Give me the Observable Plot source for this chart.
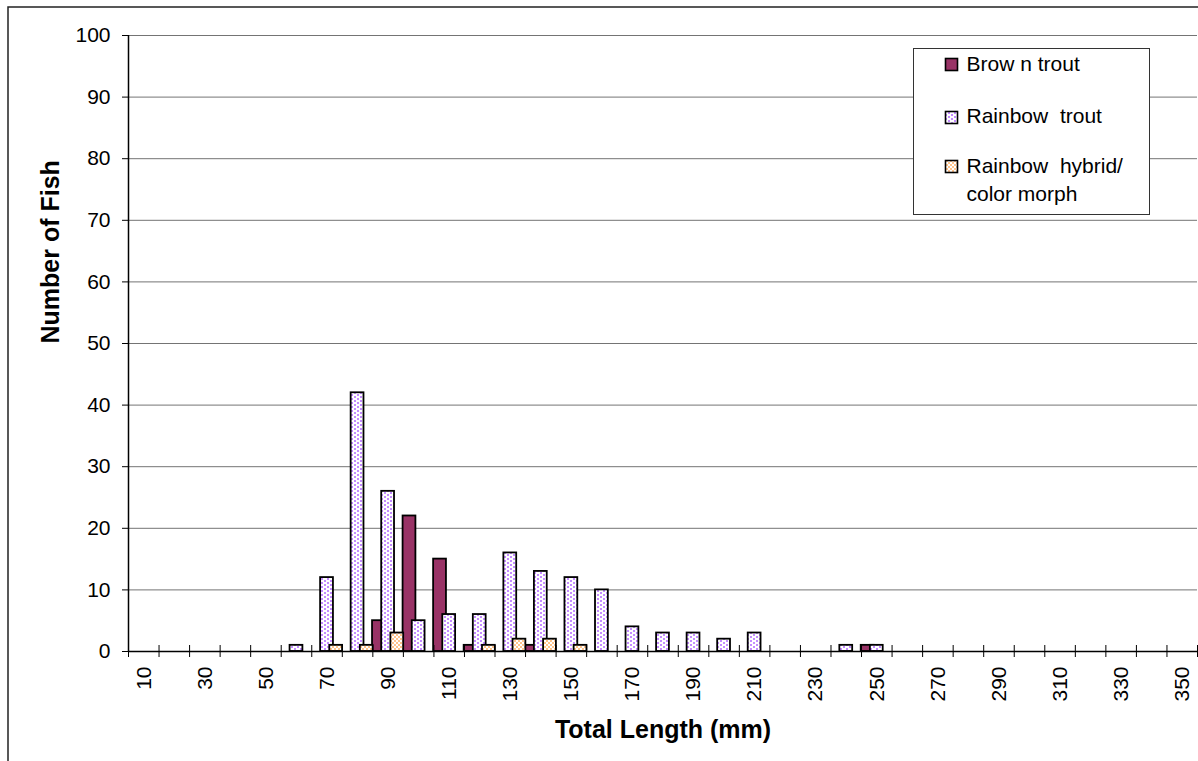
<!DOCTYPE html>
<html><head><meta charset="utf-8">
<script src="https://cdn.jsdelivr.net/npm/d3@7"></script>
<script src="https://cdn.jsdelivr.net/npm/@observablehq/plot@0.6"></script>
<style>
html,body{margin:0;padding:0;overflow:hidden;background:#fff;}
#chart{width:1198px;height:761px;}
g[aria-label="axis-title"] text{letter-spacing:0.9px;}
</style></head><body>
<div id="chart"></div>
<script>
// ---- data ----
const lengths = [10,20,30,40,50,60,70,80,90,100,110,120,130,140,150,160,170,180,190,200,210,220,230,240,250,260,270,280,290,300,310,320,330,340,350];
const brownTrout =    [0,0,0,0,0,0,0,0,5,22,15,1,0,1,0,0,0,0,0,0,0,0,0,0,1,0,0,0,0,0,0,0,0,0,0];
const rainbowTrout =  [0,0,0,0,0,1,12,42,26,5,6,6,16,13,12,10,4,3,3,2,3,0,0,1,1,0,0,0,0,0,0,0,0,0,0];
const rainbowHybrid = [0,0,0,0,0,0,1,1,3,0,0,1,2,2,1,0,0,0,0,0,0,0,0,0,0,0,0,0,0,0,0,0,0,0,0];
const seriesNames = ["Brow n trout", "Rainbow  trout", "Rainbow  hybrid/\ncolor morph"];
const yTicks = [0,10,20,30,40,50,60,70,80,90,100];
const xTickLabels = [10,30,50,70,90,110,130,150,170,190,210,230,250,270,290,310,330,350];

// ---- styling ----
const font = "'Liberation Sans', Arial, sans-serif";
const fills = ["#993366", "url(#rbDots)", "url(#hyCheck)"];
const barW = 4.2, step = 3.0;
const offsets = [-step, 0, step];
const boundaries = lengths.map(d => d - 5).concat([lengths[lengths.length - 1] + 5]);

const seriesValues = [brownTrout, rainbowTrout, rainbowHybrid];
const seriesRows = seriesValues.map((vals, si) =>
  lengths.map((len, i) => ({len, n: vals[i], si})).filter(d => d.n > 0));

function defs() {
  const d = d3.create("svg:defs");
  const p1 = d.append("pattern").attr("id", "rbDots").attr("patternUnits", "userSpaceOnUse")
    .attr("width", 6).attr("height", 4);
  p1.append("rect").attr("width", 6).attr("height", 4).attr("fill", "#fff");
  p1.append("rect").attr("x", 0).attr("y", 0).attr("width", 2).attr("height", 2).attr("fill", "#c48cff");
  p1.append("rect").attr("x", 3).attr("y", 2).attr("width", 2).attr("height", 2).attr("fill", "#c48cff");
  const p2 = d.append("pattern").attr("id", "hyCheck").attr("patternUnits", "userSpaceOnUse")
    .attr("width", 4).attr("height", 4);
  p2.append("rect").attr("width", 4).attr("height", 4).attr("fill", "#ffc48c");
  p2.append("rect").attr("x", 0).attr("y", 0).attr("width", 2).attr("height", 2).attr("fill", "#fff");
  p2.append("rect").attr("x", 2).attr("y", 2).attr("width", 2).attr("height", 2).attr("fill", "#fff");
  return d.node();
}

function outerBorder() {
  return d3.create("svg:rect").attr("x", 8).attr("y", 7).attr("width", 1400).attr("height", 1000)
    .attr("fill", "none").attr("stroke", "#222").attr("stroke-width", 1.5).node();
}

function legendBox() {
  const g = d3.create("svg:g").attr("font-family", font).attr("font-size", 21)
    .attr("fill", "#000").attr("text-anchor", "start");
  g.append("rect").attr("x", 913.5).attr("y", 48.5).attr("width", 236).attr("height", 166)
    .attr("fill", "#fff").attr("stroke", "#333").attr("stroke-width", 1);
  const swY = [58.5, 111.5, 160.5];
  const baseY = [70.7, 122.7, 173.3];
  seriesNames.forEach((name, i) => {
    g.append("rect").attr("x", 945.5).attr("y", swY[i]).attr("width", 12).attr("height", 12)
      .attr("fill", fills[i]).attr("stroke", "#000").attr("stroke-width", 1.6);
    name.split("\n").forEach((line, j) => {
      g.append("text").attr("x", 966.5).attr("y", baseY[i] + j * 27.4)
        .attr("text-anchor", "start")
        .attr("style", "white-space:pre").text(line);
    });
  });
  return g.node();
}

const barMarks = seriesRows.map((rows, si) => Plot.rect(rows, {
  x1: d => d.len + offsets[si] - barW / 2,
  x2: d => d.len + offsets[si] + barW / 2,
  y1: d => 0,
  y2: "n",
  fill: fills[si],
  stroke: "#000",
  strokeWidth: 1.8
}));

const chart = Plot.plot({
  width: 1198,
  height: 761,
  marginLeft: 128,
  marginRight: 1,
  marginTop: 35,
  marginBottom: 110,
  style: {fontFamily: font, fontSize: "21px", color: "#000", background: "#fff"},
  x: {type: "linear", domain: [5, 355], axis: null, label: null},
  y: {domain: [0, 100], axis: null, label: null},
  marks: [
    defs,
    outerBorder,
    Plot.gridY(yTicks, {stroke: "#747474", strokeOpacity: 1, strokeWidth: 1}),
    ...barMarks,
    Plot.ruleX([5], {stroke: "#000", strokeWidth: 1.5}),
    Plot.ruleY([0], {stroke: "#000", strokeWidth: 1.5}),
    Plot.ruleX(boundaries, {x: d => d, y1: d => 0, y2: d => 0, insetTop: -6, insetBottom: -6, stroke: "#000", strokeWidth: 1}),
    Plot.axisY({ticks: yTicks, tickSize: 6, tickPadding: 12, fontSize: 21, label: null, tickFormat: d => String(d), stroke: "#000"}),
    Plot.text(xTickLabels, {x: d => d, frameAnchor: "bottom", rotate: -90, textAnchor: "end", lineAnchor: "middle", dy: 15, fontSize: 21, text: d => String(d)}),
    Plot.text(["Total Length (mm)"], {frameAnchor: "bottom", dy: 78, fontSize: 25, fontWeight: "bold", lineAnchor: "middle", ariaLabel: "axis-title"}),
    Plot.text(["Number of Fish"], {frameAnchor: "left", dx: -78, rotate: -90, fontSize: 25, fontWeight: "bold", lineAnchor: "middle", ariaLabel: "axis-title"}),
    legendBox
  ]
});
document.getElementById("chart").append(chart);
</script>
</body></html>
